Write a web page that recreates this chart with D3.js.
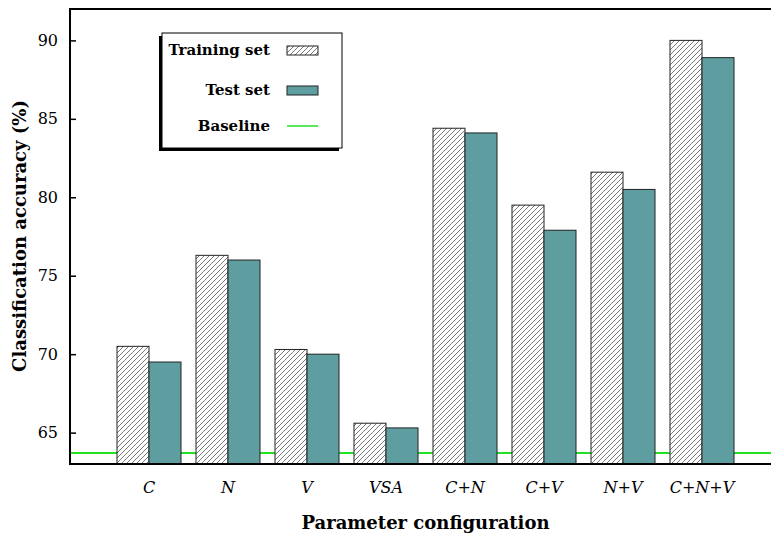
<!DOCTYPE html>
<html>
<head>
<meta charset="utf-8">
<script src="https://cdn.jsdelivr.net/npm/d3@7"></script>
<style>
  body { margin: 0; background: #fff; }
  text { font-family: "DejaVu Serif", serif; }
</style>
</head>
<body>
<script>
var categories = ['C', 'N', 'V', 'VSA', 'C+N', 'C+V', 'N+V', 'C+N+V'];
var trainingValues = [70.5, 76.3, 70.3, 65.6, 84.4, 79.5, 81.6, 90.0];
var testValues = [69.5, 76.0, 70.0, 65.3, 84.1, 77.9, 80.5, 88.9];
var baselineValue = 63.7;
var yTicks = [65, 70, 75, 80, 85, 90];

var width = 771, height = 533;
var plotLeft = 70, plotTop = 9, plotBottom = 464;

var svg = d3.select('body').append('svg')
    .attr('width', width)
    .attr('height', height);

// hatch pattern for training bars
var pat = svg.append('defs').append('pattern')
    .attr('id', 'hatch')
    .attr('patternUnits', 'userSpaceOnUse')
    .attr('width', 5)
    .attr('height', 5);
pat.append('rect').attr('width', 5).attr('height', 5).attr('fill', '#fff');
pat.append('path')
    .attr('d', 'M-1,6 L6,-1 M-1,1 L1,-1 M4,6 L6,4')
    .attr('stroke', '#555')
    .attr('stroke-width', 0.8);

// x positions: slot 0 is the axis, groups at 1..8, frame runs past the window
var x = d3.scaleLinear().domain([0, 9]).range([plotLeft, 781]);
var y = d3.scaleLinear().domain([63, 92]).range([plotBottom, plotTop]);
var barW = 32;

// baseline
svg.append('line')
    .attr('x1', plotLeft).attr('x2', width)
    .attr('y1', y(baselineValue)).attr('y2', y(baselineValue))
    .attr('stroke', '#22e022').attr('stroke-width', 2);

var g = svg.append('g');
g.selectAll('rect.train')
    .data(trainingValues)
    .enter().append('rect')
    .attr('class', 'train')
    .attr('x', function(d, i) { return x(i + 1) - barW; })
    .attr('y', function(d) { return y(d); })
    .attr('width', barW)
    .attr('height', function(d) { return y(63) - y(d); })
    .attr('fill', 'url(#hatch)')
    .attr('stroke', '#222')
    .attr('stroke-width', 1);

g.selectAll('rect.test')
    .data(testValues)
    .enter().append('rect')
    .attr('class', 'test')
    .attr('x', function(d, i) { return x(i + 1); })
    .attr('y', function(d) { return y(d); })
    .attr('width', barW)
    .attr('height', function(d) { return y(63) - y(d); })
    .attr('fill', '#5f9ea0')
    .attr('stroke', '#222')
    .attr('stroke-width', 1);

// frame (left, top, bottom)
svg.append('path')
    .attr('d', 'M' + width + ',' + plotTop + 'H' + plotLeft + 'V' + plotBottom + 'H' + width)
    .attr('fill', 'none')
    .attr('stroke', '#000')
    .attr('stroke-width', 2);

// y axis ticks drawn inward
var yAxis = svg.append('g')
    .attr('transform', 'translate(' + plotLeft + ',0)')
    .call(d3.axisRight(y).tickValues(yTicks).tickSize(6));
yAxis.select('.domain').remove();
yAxis.selectAll('line').attr('stroke-width', 1.5);
yAxis.selectAll('text')
    .attr('text-anchor', 'end')
    .attr('x', -12)
    .style('font-family', '"DejaVu Serif", serif')
    .style('font-size', '16px')
    .attr('fill', '#000');

// category labels
svg.selectAll('text.cat')
    .data(categories)
    .enter().append('text')
    .attr('class', 'cat')
    .attr('x', function(d, i) { return x(i + 1); })
    .attr('y', 493)
    .attr('text-anchor', 'middle')
    .style('font-style', 'italic')
    .style('font-size', '16px')
    .text(function(d) { return d; });

// axis titles
svg.append('text')
    .attr('x', (plotLeft + 781) / 2)
    .attr('y', 529)
    .attr('text-anchor', 'middle')
    .style('font-weight', 'bold')
    .style('font-size', '18px')
    .text('Parameter configuration');

svg.append('text')
    .attr('transform', 'translate(26,236) rotate(-90)')
    .attr('text-anchor', 'middle')
    .style('font-weight', 'bold')
    .style('font-size', '18px')
    .text('Classification accuracy (%)');

// legend with drop shadow
var lg = svg.append('g');
lg.append('rect')
    .attr('x', 159).attr('y', 36).attr('width', 180).attr('height', 115)
    .attr('fill', '#000');
lg.append('rect')
    .attr('x', 162).attr('y', 33).attr('width', 180).attr('height', 115)
    .attr('fill', '#fff').attr('stroke', '#000').attr('stroke-width', 1);

var legendItems = ['Training set', 'Test set', 'Baseline'];
var legendY = [50, 90, 126];
legendItems.forEach(function(name, i) {
    lg.append('text')
        .attr('x', 270).attr('y', legendY[i] + 5)
        .attr('text-anchor', 'end')
        .style('font-weight', 'bold')
        .style('font-size', '15px')
        .text(name);
});
lg.append('rect')
    .attr('x', 287).attr('y', legendY[0] - 4).attr('width', 31).attr('height', 9)
    .attr('fill', 'url(#hatch)').attr('stroke', '#222');
lg.append('rect')
    .attr('x', 287).attr('y', legendY[1] - 4).attr('width', 31).attr('height', 9)
    .attr('fill', '#5f9ea0').attr('stroke', '#222');
lg.append('line')
    .attr('x1', 287).attr('x2', 318)
    .attr('y1', legendY[2]).attr('y2', legendY[2])
    .attr('stroke', '#22e022').attr('stroke-width', 1.5);
</script>
</body>
</html>
